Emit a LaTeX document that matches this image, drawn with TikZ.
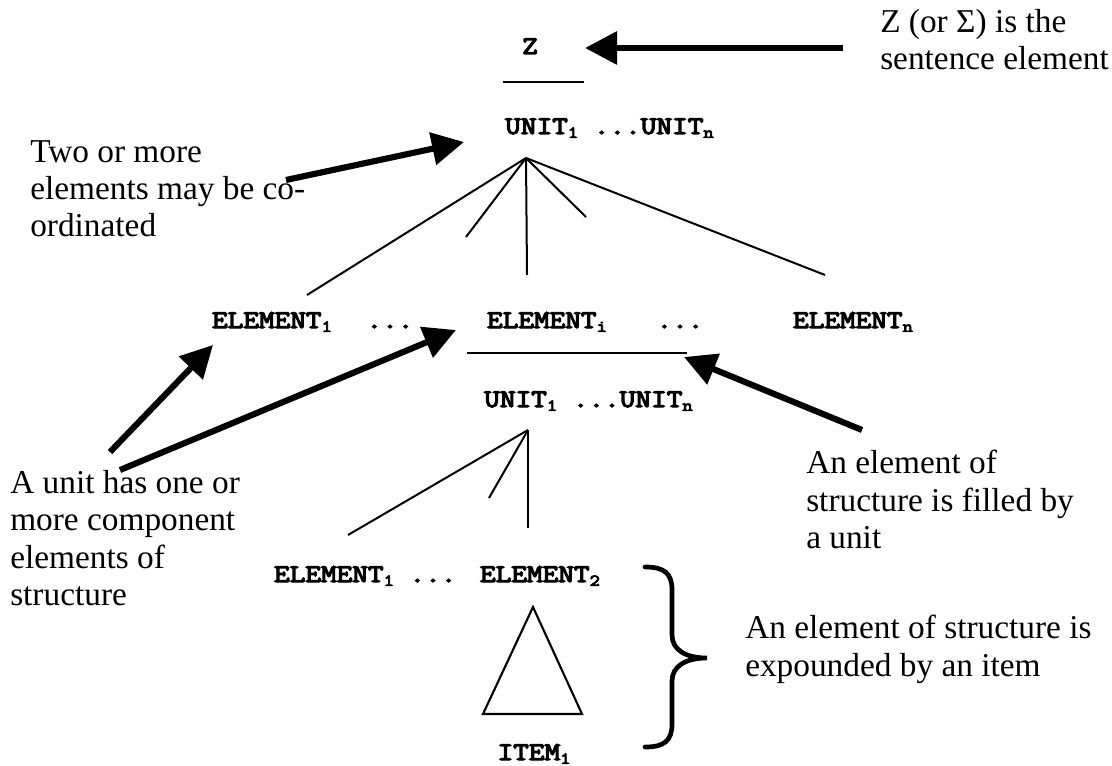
\documentclass[tikz,border=0pt]{standalone}
\usepackage{fontspec}
\setmainfont{Liberation Serif}
\newfontfamily\slabmono{Latin Modern Mono}[FakeBold=5,FakeStretch=1.2]
\usetikzlibrary{arrows.meta}
\newcommand\notefont{\rmfamily\fontsize{25}{28}\selectfont}
\newcommand\symfont{\slabmono\fontsize{19}{22}\selectfont}
\newcommand\subsc[1]{\raisebox{-0.35ex}{\fontsize{12.5}{12.5}\selectfont #1}}
\begin{document}
\begin{tikzpicture}[x=0.75pt,y=-0.75pt,
  sym/.style={font=\symfont,inner sep=0pt,anchor=base},
  note/.style={font=\notefont,inner sep=0pt,anchor=north west,align=left},
  bigarrow/.style={line width=4.6pt,-{Triangle[length=24pt,width=24pt]}},
  branch/.style={line width=1.5pt},
  bar/.style={line width=1.8pt}]
\path[use as bounding box,fill=white] (0,0) rectangle (1112,766);

% sentence level
\node[sym] (z) at (530,54) {Z};
\draw[bar] (503,82) -- (584,82);
\node[sym,anchor=base west] (u1) at (505,134) {UNIT\subsc{1} ...UNIT\subsc{n}};

% elements of the sentence
\node[sym] (e1) at (272,328) {ELEMENT\subsc{1}};
\node[sym] (d1) at (390,328) {...};
\node[sym] (ei) at (547,328) {ELEMENT\subsc{i}};
\node[sym] (d2) at (680,328) {...};
\node[sym] (en) at (853,328) {ELEMENT\subsc{n}};

% upper branching
\coordinate (ap1) at (526,158);
\coordinate (f1) at (307,295);
\coordinate (f2) at (466,237);
\coordinate (f3) at (527,275);
\coordinate (f4) at (586,217);
\coordinate (f5) at (825,275);
\foreach \f in {f1,f2,f3,f4,f5} \draw[branch] (ap1) -- (\f);

% unit filling ELEMENT_i
\draw[bar] (467,353) -- (687,353);
\node[sym,anchor=base west] (u2) at (484,407) {UNIT\subsc{1} ...UNIT\subsc{n}};

% lower branching
\coordinate (ap2) at (528,430);
\coordinate (g1) at (348,535);
\coordinate (g2) at (489,498);
\coordinate (g3) at (528,528);
\foreach \g in {g1,g2,g3} \draw[branch] (ap2) -- (\g);

\node[sym] (le1) at (334,582) {ELEMENT\subsc{1}};
\node[sym] (ld) at (433,582) {...};
\node[sym] (le2) at (540,582) {ELEMENT\subsc{2}};

% item expounding ELEMENT_2
\draw[line width=1.6pt,line join=miter] (533,607) -- (582,714) -- (483,714) -- cycle;
\node[sym] (item) at (534,760) {ITEM\subsc{1}};

% brace
\draw[line width=3.5pt,line cap=round]
  (645,567) .. controls (664,567) and (672,573) .. (672,590) -- (672,635)
  .. controls (672,650) and (686,658) .. (707,658)
  .. controls (686,658) and (672,666) .. (672,681) -- (672,724)
  .. controls (672,741) and (664,747) .. (645,747);

% notes
\node[note] (n1) at (880,9) {Z (or Σ) is the\\sentence element};
\node[note] (n2) at (30,140) {Two or more\\elements may be co-\\ordinated};
\node[note] (n3) at (10,470) {A unit has one or\\more component\\elements of\\structure};
\node[note] (n4) at (806,450) {An element of\\structure is filled by\\a unit};
\node[note] (n5) at (745,615) {An element of structure is\\expounded by an item};

% pointers
\coordinate (a1s) at (843,48);  \coordinate (a1e) at (585,48);
\coordinate (a2s) at (286,180); \coordinate (a2e) at (464,142);
\coordinate (a3s) at (110,452); \coordinate (a3e) at (213,345);
\coordinate (a4s) at (120,470); \coordinate (a4e) at (456,330);
\coordinate (a5s) at (862,430); \coordinate (a5e) at (684,357);
\foreach \s/\e in {a1s/a1e,a2s/a2e,a3s/a3e,a4s/a4e,a5s/a5e}
  \draw[bigarrow] (\s) -- (\e);
\end{tikzpicture}
\end{document}
